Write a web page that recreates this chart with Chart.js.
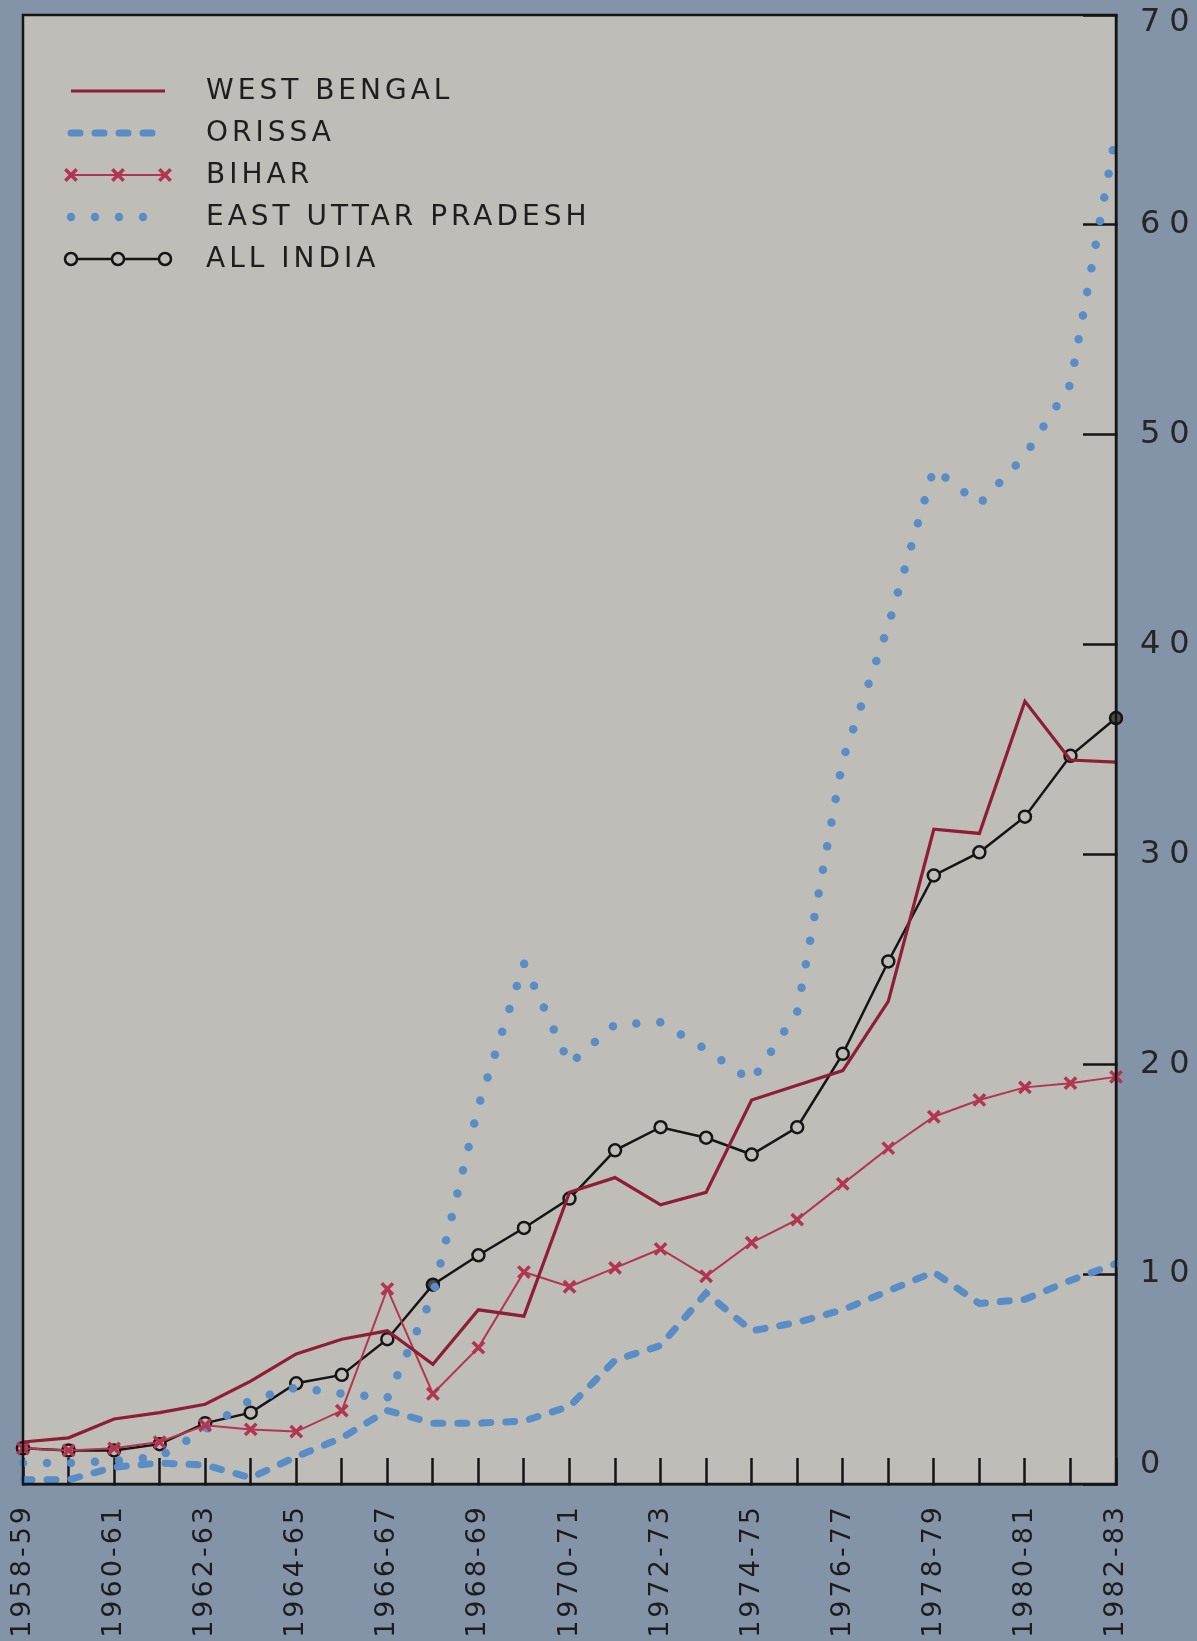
<!DOCTYPE html>
<html>
<head>
<meta charset="utf-8">
<script src="https://cdn.jsdelivr.net/npm/chart.js@4.4.1/dist/chart.umd.min.js"></script>
<style>
  html, body { margin: 0; padding: 0; background: #8393a8; }
  canvas { display: block; }
</style>
</head>
<body>
<canvas id="chart" width="1197" height="1641"></canvas>
<script>
const years = [
  '1958-59', '1959-60', '1960-61', '1961-62', '1962-63', '1963-64', '1964-65',
  '1965-66', '1966-67', '1967-68', '1968-69', '1969-70', '1970-71', '1971-72',
  '1972-73', '1973-74', '1974-75', '1975-76', '1976-77', '1977-78', '1978-79',
  '1979-80', '1980-81', '1981-82', '1982-83'
];

const westBengal = [2.0, 2.2, 3.1, 3.4, 3.8, 4.9, 6.2, 6.9, 7.3, 5.7, 8.3, 8.0, 13.9,
  14.6, 13.3, 13.9, 18.3, 19.0, 19.7, 23.0, 31.2, 31.0, 37.3, 34.5, 34.4];
const orissa = [0.2, 0.2, 0.8, 1.0, 0.9, 0.3, 1.3, 2.2, 3.5, 2.9, 2.9, 3.0, 3.7,
  5.9, 6.6, 9.1, 7.3, 7.7, 8.3, 9.2, 10.1, 8.6, 8.8, 9.7, 10.5];
const bihar = [1.7, 1.6, 1.7, 2.0, 2.8, 2.6, 2.5, 3.5, 9.3, 4.3, 6.5, 10.1, 9.4,
  10.3, 11.2, 9.9, 11.5, 12.6, 14.3, 16.0, 17.5, 18.3, 18.9, 19.1, 19.4];
const eastUP = [1.0, 1.0, 1.1, 1.3, 2.6, 4.0, 4.6, 4.3, 4.1, 9.0, 18.0, 24.8, 20.0,
  21.9, 22.0, 20.7, 19.2, 22.5, 34.5, 40.9, 48.4, 46.7, 49.0, 52.4, 64.4];
const allIndia = [1.7, 1.6, 1.6, 1.9, 2.9, 3.4, 4.8, 5.2, 6.9, 9.5, 10.9, 12.2, 13.6,
  15.9, 17.0, 16.5, 15.7, 17.0, 20.5, 24.9, 29.0, 30.1, 31.8, 34.7, 36.5];

const yTicks = [0, 10, 20, 30, 40, 50, 60, 70];

const plotBg = '#bebdb7';
const ink = '#151515';
const blue = '#5a8cc6';
const font = 'DejaVu Sans';

// all india has two inked-in circles in the original
const allIndiaFill = years.map((y, i) => (i === 9 || i === 24) ? '#4a4a4a' : plotBg);

function drawMarker(ctx, ds, x, y) {
  const r = ds.pointRadius;
  ctx.lineWidth = ds.pointBorderWidth;
  ctx.strokeStyle = ds.pointBorderColor;
  ctx.beginPath();
  if (ds.pointStyle === 'crossRot') {
    const d = r * Math.SQRT1_2;
    ctx.moveTo(x - d, y - d); ctx.lineTo(x + d, y + d);
    ctx.moveTo(x - d, y + d); ctx.lineTo(x + d, y - d);
    ctx.stroke();
  } else {
    ctx.arc(x, y, r, 0, Math.PI * 2);
    ctx.fillStyle = plotBg;
    ctx.fill();
    ctx.stroke();
  }
}

// keep the plot box where the original has it
function pinScale(s, size) {
  if (s.isHorizontal()) s.height = size; else s.width = size;
  s.paddingTop = 0;
  s.paddingBottom = 0;
  s.paddingLeft = 0;
  s.paddingRight = 0;
}

const framePlugin = {
  id: 'frame',
  beforeUpdate(chart) {
    chart.ctx.letterSpacing = '3px';
  },
  afterLayout(chart) {
    const ys = chart.scales.y;
    if (ys && !ys._spaced) {
      // wider spacing on the right-hand numbers
      const origDraw = ys.drawLabels.bind(ys);
      ys.drawLabels = function (area) {
        const c = this.ctx;
        const prev = c.letterSpacing;
        c.letterSpacing = '9px';
        origDraw(area);
        c.letterSpacing = prev;
      };
      // end labels sit inside the frame, as in the original
      const origItems = ys.getLabelItems.bind(ys);
      ys.getLabelItems = function (area) {
        const items = origItems(area);
        if (items.length && !items._nudged) {
          items[0].options.translation[1] -= 19;
          items[items.length - 1].options.translation[1] += 8;
          items._nudged = true;
        }
        return items;
      };
      ys._spaced = true;
    }
  },
  beforeDraw(chart) {
    const { ctx, chartArea: a } = chart;
    ctx.letterSpacing = '3px';
    ctx.save();
    ctx.fillStyle = plotBg;
    ctx.fillRect(a.left, a.top, a.right - a.left, a.bottom - a.top);
    ctx.restore();
  },
  afterDraw(chart) {
    const { ctx, chartArea: a } = chart;
    ctx.save();
    ctx.strokeStyle = ink;
    ctx.lineWidth = 2.5;
    ctx.strokeRect(a.left, a.top, a.right - a.left, a.bottom - a.top);

    // legend, top left inside the plot
    chart.data.datasets.forEach((ds, k) => {
      const y = a.top + 76 + k * 42;
      const x0 = a.left + 48, x1 = a.left + 142;
      ctx.save();
      ctx.strokeStyle = ds.borderColor;
      ctx.lineWidth = ds.borderWidth;
      ctx.lineCap = ds.borderCapStyle || 'butt';
      ctx.setLineDash(ds.borderDash || []);
      ctx.beginPath();
      ctx.moveTo(x0, y);
      ctx.lineTo(x1, y);
      ctx.stroke();
      ctx.setLineDash([]);
      if (ds.pointRadius > 0) {
        [x0, (x0 + x1) / 2, x1].forEach(x => drawMarker(ctx, ds, x, y));
      }
      ctx.restore();
      ctx.save();
      ctx.letterSpacing = '4px';
      ctx.fillStyle = '#1e1e1e';
      ctx.font = '28px "' + font + '"';
      ctx.textBaseline = 'middle';
      ctx.fillText(ds.label, a.left + 183, y + 1);
      ctx.restore();
    });
    ctx.restore();
  }
};

const data = {
  labels: years,
  datasets: [
    {
      label: 'WEST BENGAL',
      data: westBengal,
      borderColor: '#8e1d36',
      borderWidth: 3.2,
      pointRadius: 0
    },
    {
      label: 'ORISSA',
      data: orissa,
      borderColor: blue,
      borderWidth: 7,
      borderDash: [9, 15],
      borderCapStyle: 'round',
      pointRadius: 0
    },
    {
      label: 'BIHAR',
      data: bihar,
      borderColor: '#b23552',
      borderWidth: 2,
      pointStyle: 'crossRot',
      pointRadius: 8,
      pointBorderWidth: 3.5,
      pointBorderColor: '#b23552'
    },
    {
      label: 'EAST UTTAR PRADESH',
      data: eastUP,
      borderColor: blue,
      borderWidth: 8.5,
      borderDash: [0, 24],
      borderCapStyle: 'round',
      pointRadius: 0
    },
    {
      label: 'ALL INDIA',
      data: allIndia,
      borderColor: ink,
      borderWidth: 2.5,
      pointStyle: 'circle',
      pointRadius: 6,
      pointBorderWidth: 2.5,
      pointBorderColor: ink,
      pointBackgroundColor: allIndiaFill
    }
  ]
};

const config = {
  type: 'line',
  data: data,
  options: {
    responsive: false,
    animation: false,
    devicePixelRatio: 1,
    layout: { autoPadding: false, padding: { left: 23, top: 15, right: 0, bottom: 0 } },
    elements: { line: { tension: 0 } },
    plugins: {
      legend: { display: false },
      tooltip: { enabled: false }
    },
    scales: {
      x: {
        type: 'category',
        offset: false,
        grid: { drawOnChartArea: false, tickLength: -26, tickWidth: 2.5, tickColor: ink },
        border: { display: true, color: ink, width: 2.5 },
        ticks: {
          autoSkip: false,
          maxRotation: 90,
          minRotation: 90,
          padding: 46,
          color: '#1c1c1c',
          font: { family: font, size: 27 },
          callback: function (v, i) {
            return i % 2 === 0 ? this.getLabelForValue(v) : '';
          }
        },
        afterFit(s) { pinScale(s, 157); }
      },
      y: {
        position: 'right',
        min: 0,
        max: 70,
        afterBuildTicks(s) { s.ticks = yTicks.map(v => ({ value: v })); },
        grid: { drawOnChartArea: false, tickLength: -33, tickWidth: 2.5, tickColor: ink },
        border: { display: true, color: ink, width: 2.5 },
        ticks: {
          padding: 57,
          color: '#262626',
          font: { family: font, size: 32 }
        },
        afterFit(s) { pinScale(s, 81); }
      }
    }
  },
  plugins: [framePlugin]
};

const lineChart = new Chart(document.getElementById('chart'), config);
</script>
</body>
</html>
